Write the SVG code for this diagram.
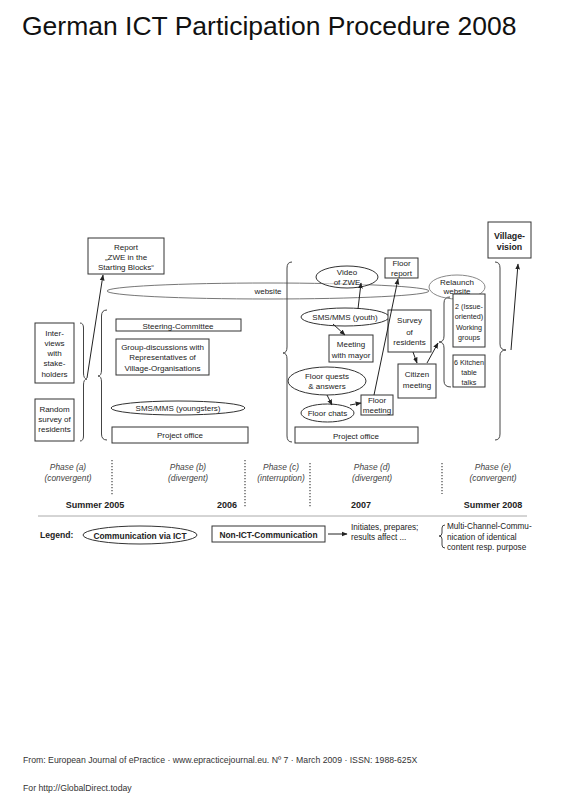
<svg xmlns="http://www.w3.org/2000/svg" width="565" height="800" viewBox="0 0 565 800">
<defs>
<marker id="ah" viewBox="0 0 10 10" refX="9" refY="5" markerWidth="6" markerHeight="6" orient="auto" markerUnits="userSpaceOnUse">
<path d="M0,1 L10,5 L0,9 z" fill="#222"/>
</marker>
</defs>
<style>
text{font-family:"Liberation Sans",Arial,sans-serif;fill:#222;}
.t{font-size:8px;text-anchor:middle;}
.s{font-size:7.2px;}
.b{font-weight:bold;}
.ph{font-size:8.4px;font-style:italic;text-anchor:middle;fill:#444;}
.yr{font-size:9px;font-weight:bold;}
.box{fill:#fff;stroke:#333;stroke-width:1;}
.ell{fill:#fff;stroke:#333;stroke-width:1;}
.br{fill:none;stroke:#444;stroke-width:1;}
.ln{fill:none;stroke:#222;stroke-width:1;marker-end:url(#ah);}
.dot{stroke:#444;stroke-width:1.2;stroke-dasharray:1.2 1.8;}
</style>
<rect width="565" height="800" fill="#fff"/>
<text x="22" y="35" style="font-size:26.5px;fill:#111;">German ICT Participation Procedure 2008</text>

<g id="website">
<ellipse cx="268" cy="291" rx="161" ry="8" fill="none" stroke="#777" stroke-width="1"/>
<text class="t" x="268" y="294">website</text>
</g>

<g id="braces">
<path class="br" d="M80,323 Q83.5,323 83.5,328 L83.5,373 Q83.5,379 87,379 Q83.5,379 83.5,385 L83.5,436 Q83.5,441 80,441"/>
<path class="br" d="M107,310 Q101.5,310 101.5,316 L101.5,370 Q101.5,376 98,376 Q101.5,376 101.5,382 L101.5,434 Q101.5,440 107,440"/>
<path class="br" d="M292,262 Q287,262 287,268 L287,347 Q287,353 283,353 Q287,353 287,359 L287,436 Q287,442 292,442"/>
<path class="br" d="M495,262 Q500,262 500,268 L500,344 Q500,350 506,350 Q500,350 500,356 L500,434 Q500,440 495,440"/>
<path class="br" d="M450,297 Q444,297 444,303 L444,336 Q444,342 439,342 Q444,342 444,348 L444,381 Q444,387 451,387"/>
</g>

<g id="report"><rect class="box" x="88" y="238" width="76" height="36" stroke-width="1.3"/>
<text class="t" x="126" y="250">Report</text><text class="t" x="126" y="260">„ZWE in the</text><text class="t" x="126" y="270">Starting Blocks“</text></g>
<g id="interviews"><rect class="box" x="35" y="323" width="39" height="60"/>
<text class="t" x="54.5" y="336">Inter-</text><text class="t" x="54.5" y="346">views</text><text class="t" x="54.5" y="356">with</text><text class="t" x="54.5" y="366">stake-</text><text class="t" x="54.5" y="377">holders</text></g>
<g id="random"><rect class="box" x="35" y="399" width="39" height="42"/>
<text class="t" x="54.5" y="412">Random</text><text class="t" x="54.5" y="422">survey of</text><text class="t" x="54.5" y="432">residents</text></g>
<g id="steering"><rect class="box" x="116" y="319" width="125" height="12"/>
<text class="t" x="178" y="328.5">Steering-Committee</text></g>
<g id="groupdisc"><rect class="box" x="116" y="339" width="93" height="36"/>
<text class="t" x="162.5" y="350">Group-discussions with</text><text class="t" x="162.5" y="360">Representatives  of</text><text class="t" x="162.5" y="370.5">Village-Organisations</text></g>
<g id="smsyoungsters"><ellipse class="ell" cx="178" cy="408" rx="67" ry="7"/>
<text class="t" x="178" y="411">SMS/MMS (youngsters)</text></g>
<g id="office1"><rect class="box" x="112" y="427" width="136" height="16" stroke="#555"/>
<text class="t" x="180" y="438">Project office</text></g>

<g id="video"><ellipse class="ell" cx="347" cy="277" rx="31" ry="11" fill-opacity="0.6"/>
<text class="t" x="347" y="275">Video</text><text class="t" x="347" y="285">of ZWE</text></g>
<g id="floorreport"><rect class="box" x="385" y="258" width="33" height="20" stroke-width="1.3"/>
<text class="t" x="401.5" y="266">Floor</text><text class="t" x="401.5" y="276">report</text></g>
<g id="relaunch"><ellipse cx="457" cy="287" rx="28" ry="12" fill="none" stroke="#888"/>
<text class="t" x="457" y="285">Relaunch</text><text class="t" x="457" y="294">website</text></g>
<g id="smsyouth"><ellipse class="ell" cx="345" cy="317" rx="44" ry="9" stroke-width="2"/>
<text class="t" x="345" y="320">SMS/MMS (youth)</text></g>
<g id="mayor"><rect class="box" x="329" y="335" width="44" height="27" stroke-width="2"/>
<text class="t" x="351" y="347">Meeting</text><text class="t" x="351" y="358">with mayor</text></g>
<g id="survey"><rect class="box" x="388" y="310" width="43" height="42" stroke-width="2.5"/>
<text class="t" x="409.5" y="323">Survey</text><text class="t" x="409.5" y="335">of</text><text class="t" x="409.5" y="345">residents</text></g>
<g id="citizen"><rect class="box" x="398" y="364" width="38" height="34" stroke-width="3.5"/>
<text class="t" x="417" y="377">Citizen</text><text class="t" x="417" y="388">meeting</text></g>
<g id="floorquests"><ellipse class="ell" cx="327" cy="381" rx="39" ry="14" stroke-width="2.5"/>
<text class="t" x="327" y="379">Floor quests</text><text class="t" x="327" y="389">&amp; answers</text></g>
<g id="floorchats"><ellipse class="ell" cx="327.5" cy="413" rx="26.5" ry="9"/>
<text class="t" x="327.5" y="416">Floor chats</text></g>
<g id="floormeeting"><rect class="box" x="361" y="395" width="32" height="20"/>
<text class="t" x="377" y="403">Floor</text><text class="t" x="377" y="413">meeting</text></g>
<g id="office2"><rect class="box" x="295" y="427" width="123" height="16"/>
<text class="t" x="356" y="438.5">Project office</text></g>
<g id="working"><rect class="box" x="453" y="294" width="32" height="53" stroke-width="2.5"/>
<text class="t s" x="469" y="309">2 (Issue-</text><text class="t s" x="469" y="319">oriented)</text><text class="t s" x="469" y="330">Working</text><text class="t s" x="469" y="340">groups</text></g>
<g id="kitchen"><rect class="box" x="453" y="355" width="32" height="32" stroke-width="1.6"/>
<text class="t s" x="469" y="365">6 Kitchen</text><text class="t s" x="469" y="375">table</text><text class="t s" x="469" y="385">talks</text></g>
<g id="village"><rect class="box" x="488" y="222" width="43" height="36" stroke-width="1.2"/>
<text class="t b" x="509.5" y="239" style="font-size:8.8px">Village-</text><text class="t b" x="509.5" y="250" style="font-size:8.8px">vision</text></g>

<g id="connectors">
<line class="ln" x1="87" y1="378" x2="103" y2="275"/>
<line class="ln" x1="358" y1="309" x2="361" y2="283"/>
<line class="ln" x1="333" y1="324" x2="345" y2="335"/>
<line class="ln" x1="374" y1="395" x2="398" y2="279"/>
<line class="ln" x1="327" y1="395" x2="332" y2="405"/>
<line class="ln" x1="350" y1="405" x2="361" y2="403"/>
<line class="ln" x1="413" y1="352" x2="417" y2="363"/>
<line class="ln" x1="427" y1="363" x2="438" y2="343"/>
<line class="ln" x1="511" y1="350" x2="518" y2="264"/>
</g>

<g id="phases">
<line class="dot" x1="112" y1="460" x2="112" y2="495"/>
<line class="dot" x1="245" y1="460" x2="245" y2="507"/>
<line class="dot" x1="310" y1="463" x2="310" y2="507"/>
<line class="dot" x1="442" y1="463" x2="442" y2="494"/>
<text class="ph" x="68" y="470">Phase (a)</text><text class="ph" x="68" y="481">(convergent)</text>
<text class="ph" x="188" y="470">Phase (b)</text><text class="ph" x="188" y="481">(divergent)</text>
<text class="ph" x="281" y="470">Phase (c)</text><text class="ph" x="281" y="481">(interruption)</text>
<text class="ph" x="372" y="470">Phase (d)</text><text class="ph" x="372" y="481">(divergent)</text>
<text class="ph" x="493" y="470">Phase (e)</text><text class="ph" x="493" y="481">(convergent)</text>
<text class="yr" x="95" y="508" text-anchor="middle">Summer 2005</text>
<text class="yr" x="237" y="508" text-anchor="end">2006</text>
<text class="yr" x="351" y="508">2007</text>
<text class="yr" x="493" y="508" text-anchor="middle">Summer 2008</text>
<line x1="38" y1="516" x2="527" y2="516" stroke="#aaa" stroke-width="1"/>
</g>

<g id="legend">
<text class="b" x="40" y="538" style="font-size:8.6px">Legend:</text>
<ellipse class="ell" cx="140" cy="535" rx="57" ry="9"/>
<text class="t b" x="140" y="538.5" style="font-size:8.4px">Communication via ICT</text>
<rect class="box" x="212" y="526" width="113" height="16"/>
<text class="t b" x="268.5" y="537.5" style="font-size:8.4px">Non-ICT-Communication</text>
<line class="ln" x1="328" y1="534" x2="347" y2="534"/>
<text x="351" y="530" style="font-size:8.2px">Initiates, prepares;</text>
<text x="351" y="540" style="font-size:8.2px">results affect ...</text>
<path class="br" d="M445,525 Q442,525 442,528 L442,533 Q442,536 439,536 Q442,536 442,539 L442,545 Q442,548 445,548"/>
<text x="447" y="529" style="font-size:8.2px">Multi-Channel-Commu-</text>
<text x="447" y="540" style="font-size:8.2px">nication of identical</text>
<text x="447" y="550" style="font-size:8.2px">content resp. purpose</text>
</g>

<text x="23" y="763" style="font-size:8.7px;fill:#333;">From: European Journal of ePractice · www.epracticejournal.eu. Nº 7 · March 2009 · ISSN: 1988-625X</text>
<text x="23" y="791" style="font-size:8.7px;fill:#333;">For http://GlobalDirect.today</text>
</svg>
